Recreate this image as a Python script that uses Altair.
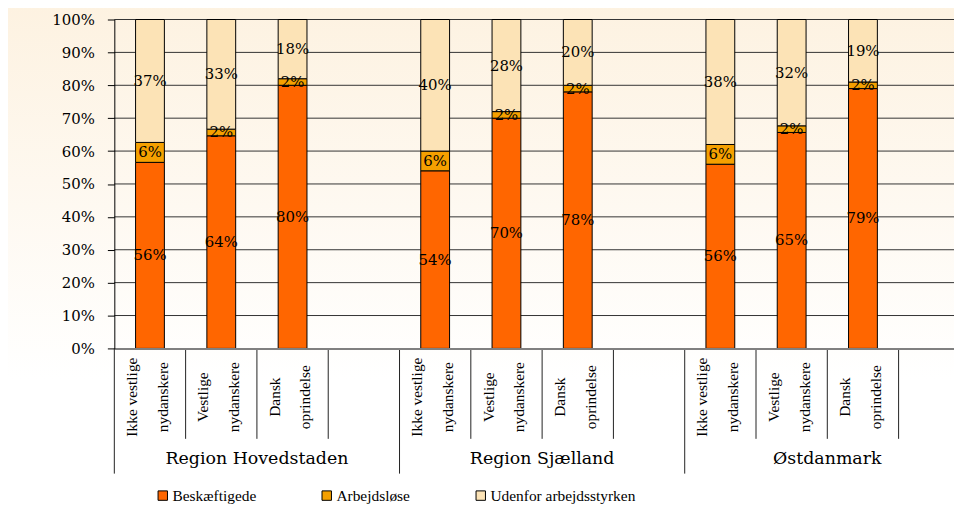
import altair as alt
import pandas as pd

# ---------------- data ----------------
regions = ["Region Hovedstaden", "Region Sjælland", "Østdanmark"]
groups = ["Ikke vestlige\nnydanskere", "Vestlige\nnydanskere", "Dansk\noprindelse"]
series = ["Beskæftigede", "Arbejdsløse", "Udenfor arbejdsstyrken"]
colors = ["#FF6600", "#F5A000", "#FCE3B6"]

beskaeftigede = [56, 64, 80, 54, 70, 78, 56, 65, 79]
arbejdslose = [6, 2, 2, 6, 2, 2, 6, 2, 2]
udenfor = [37, 33, 18, 40, 28, 20, 38, 32, 19]

y_ticks = [0.0, 0.1, 0.2, 0.3, 0.4, 0.5, 0.6, 0.7, 0.8, 0.9, 1.0]

SLOTS_PER_REGION = 4
W, H = 845, 331
SLOT_PX = 71.75
X_MAX = W / SLOT_PX

rows = []
cat_rows = []
for r_i, reg in enumerate(regions):
    for g_i, grp in enumerate(groups):
        k = r_i * 3 + g_i
        slot = r_i * SLOTS_PER_REGION + g_i
        cat_rows.append({"slot": slot, "label": grp})
        for s_i, (name, vals) in enumerate(zip(series, [beskaeftigede, arbejdslose, udenfor])):
            rows.append({"slot": slot, "region": reg, "group": grp,
                         "series": name, "order": s_i, "value": vals[k]})
df = pd.DataFrame(rows)
cat_df = pd.DataFrame(cat_rows)
reg_df = pd.DataFrame({"region": regions,
                       "slot": [i * SLOTS_PER_REGION for i in range(len(regions))]})
n_slots = len(regions) * SLOTS_PER_REGION
sep_df = pd.DataFrame({"b": [b for b in range(n_slots) if b % SLOTS_PER_REGION != 0]})
regsep_df = pd.DataFrame({"b": [b for b in range(n_slots) if b % SLOTS_PER_REGION == 0]})
grid_df = pd.DataFrame({"t": y_ticks[1:]})

SERIF = "Liberation Serif"
SERIF_WIDE = "DejaVu Serif"

xscale = alt.Scale(domain=[0, X_MAX], nice=False, zero=False, padding=0)
yscale = alt.Scale(domain=[0, 1], nice=False, padding=0)

yaxis = alt.Axis(values=y_ticks, format=".0%", grid=False, title=None,
                 tickSize=7, tickColor="black", domainColor="black",
                 labelFont=SERIF_WIDE, labelFontSize=15, labelColor="black",
                 labelPadding=13, labelOverlap=False, labelBound=False,
                 tickCount=11, zindex=1)

bg = alt.Chart(pd.DataFrame({"a": [0]})).mark_rect(
    color=alt.Gradient(
        gradient="linear",
        stops=[alt.GradientStop(color="#FDF2E1", offset=0),
               alt.GradientStop(color="#FFFFFF", offset=0.75)],
        x1=0, x2=0, y1=0, y2=1)
).encode(x=alt.value(-107), x2=alt.value(W), y=alt.value(-13), y2=alt.value(487))

grid = alt.Chart(grid_df).mark_rule(color="#333333", strokeWidth=1).encode(
    y=alt.Y("t:Q", scale=yscale, axis=yaxis))

base = alt.Chart(df).transform_stack(
    stack="value", groupby=["slot"], as_=["y0", "y1"], offset="normalize",
    sort=[alt.SortField("order", order="ascending")]
).transform_calculate(
    xc="datum.slot + 0.5",
    ym="(datum.y0 + datum.y1) / 2",
    txt="datum.value + '%'"
)

bars = base.mark_bar(width=29, stroke="black", strokeWidth=1, orient="vertical").encode(
    x=alt.X("xc:Q", scale=xscale,
            axis=alt.Axis(labels=False, ticks=False, grid=False, title=None,
                          domainColor="#808080", domainWidth=2, zindex=1)),
    y=alt.Y("y0:Q", scale=yscale, axis=yaxis),
    y2="y1:Q",
    color=alt.Color("series:N", scale=alt.Scale(domain=series, range=colors),
                    legend=alt.Legend(orient="none", legendX=41, legendY=471,
                                      direction="horizontal", title=None,
                                      symbolType="square", symbolSize=90,
                                      symbolStrokeColor="black", symbolStrokeWidth=1,
                                      labelFont=SERIF, labelFontSize=15.5,
                                      labelColor="black", labelOffset=2,
                                      columnPadding=63, padding=0)),
)

pct = base.mark_text(font=SERIF_WIDE, fontSize=15, color="black",
                     align="center", baseline="middle").encode(
    x=alt.X("xc:Q", scale=xscale),
    y=alt.Y("ym:Q", scale=yscale, axis=yaxis),
    text="txt:N")

seps = alt.Chart(sep_df).mark_rule(color="#222222", strokeWidth=1).encode(
    x=alt.X("b:Q", scale=xscale), y=alt.value(H), y2=alt.value(422))

regseps = alt.Chart(regsep_df).mark_rule(color="#222222", strokeWidth=1).encode(
    x=alt.X("b:Q", scale=xscale), y=alt.value(H), y2=alt.value(457))

cats = alt.Chart(cat_df).transform_calculate(
    xc="datum.slot + 0.5 - 18 / %f" % SLOT_PX
).mark_text(font=SERIF, fontSize=15.5, color="black", angle=270,
            align="center", baseline="middle", lineBreak="\n", lineHeight=31).encode(
    x=alt.X("xc:Q", scale=xscale), y=alt.value(380), text="label:N")

regs = alt.Chart(reg_df).transform_calculate(
    xc="datum.slot + 2"
).mark_text(font=SERIF_WIDE, fontSize=17.5, color="black",
            align="center", baseline="middle").encode(
    x=alt.X("xc:Q", scale=xscale), y=alt.value(442), text="region:N")

chart = alt.layer(bg, grid, bars, pct, seps, regseps, cats, regs).properties(
    width=W, height=H,
    autosize=alt.AutoSizeParams(type="none"),
    padding={"left": 107, "top": 10, "right": 0, "bottom": 156},
    background="white",
).configure_view(stroke=None)

chart.save("out.html", embed_options={"renderer": "svg", "actions": False})
